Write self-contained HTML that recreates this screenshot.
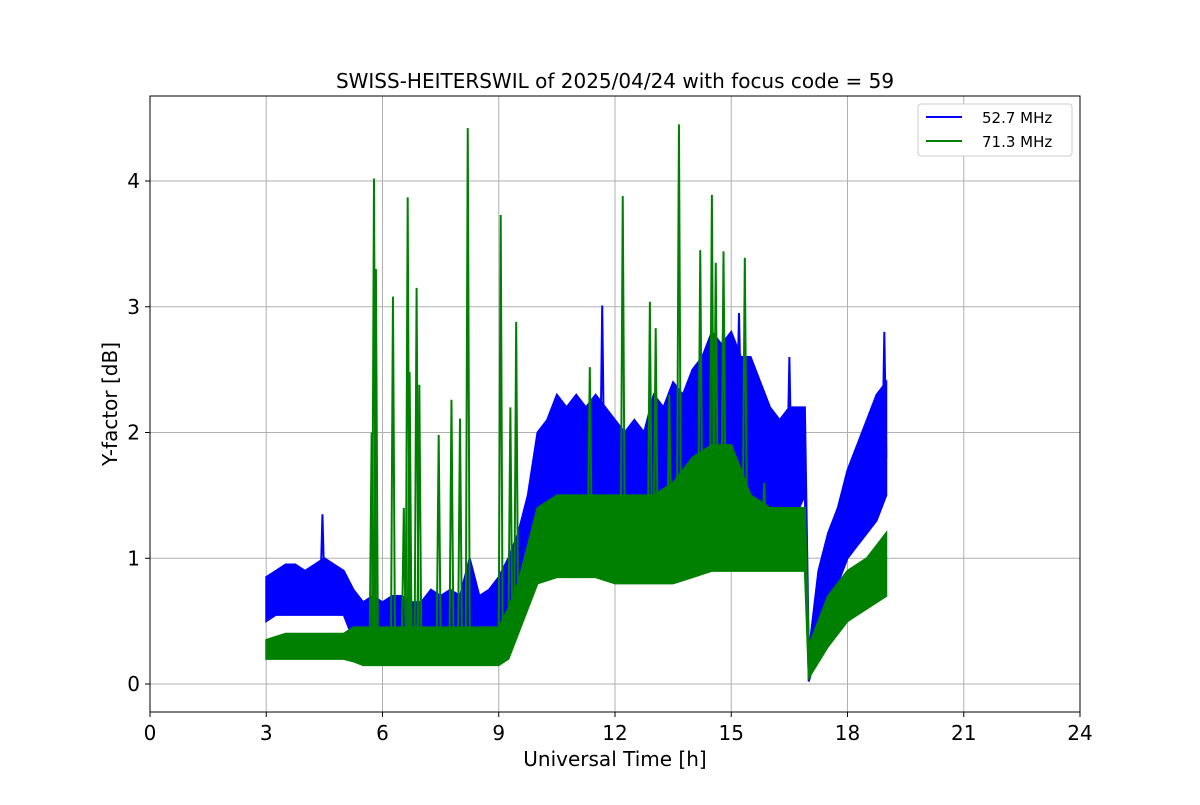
<!DOCTYPE html>
<html><head><meta charset="utf-8"><style>
body{margin:0;background:#fff;}
svg text{font-family:"DejaVu Sans","Liberation Sans",sans-serif;}
</style></head><body>
<svg id="chart" width="1200" height="800" xmlns="http://www.w3.org/2000/svg">
<rect width="1200" height="800" fill="#fff"/>
<g id="grid"></g>
<g id="series"></g>
<rect x="150" y="96" width="930" height="616" fill="none" stroke="#000" stroke-width="1"/>
<g id="axes"></g>
<text x="615" y="88" text-anchor="middle" font-size="20">SWISS-HEITERSWIL of 2025/04/24 with focus code = 59</text>
<text x="615" y="766" text-anchor="middle" font-size="20">Universal Time [h]</text>
<text x="117" y="404" text-anchor="middle" font-size="20" transform="rotate(-90 117 404)">Y-factor [dB]</text>
<g>
<rect x="918" y="104" width="154" height="52" rx="3" fill="#fff" stroke="#ccc"/>
<line x1="926" y1="117" x2="962" y2="117" stroke="blue" stroke-width="2"/>
<text x="982" y="123" font-size="15">52.7 MHz</text>
<line x1="926" y1="141" x2="962" y2="141" stroke="green" stroke-width="2"/>
<text x="982" y="147" font-size="15">71.3 MHz</text>
</g>
</svg>
<script>
const xTicks=[0,3,6,9,12,15,18,21,24];
const yTicks=[0,1,2,3,4];
const blueT=[3,3.25,3.5,3.75,4,4.25,4.5,4.75,5,5.25,5.5,5.75,6,6.25,6.5,6.75,7,7.25,7.5,7.75,8,8.25,8.5,8.75,9,9.25,9.5,9.75,10,10.25,10.5,10.75,11,11.25,11.5,11.75,12,12.25,12.5,12.75,13,13.25,13.5,13.75,14,14.25,14.5,14.75,15,15.25,15.5,15.75,16,16.25,16.5,16.75,16.9,17,17.25,17.5,17.75,18,18.25,18.5,18.75,19];
const blueLow=[0.5,0.55,0.55,0.55,0.55,0.55,0.55,0.55,0.55,0.35,0.3,0.25,0.25,0.25,0.25,0.25,0.25,0.25,0.25,0.25,0.25,0.25,0.25,0.3,0.3,0.4,0.6,0.8,1.0,1.1,1.1,1.1,1.1,1.1,1.1,1.0,1.0,1.0,1.0,1.0,1.0,1.0,1.0,1.1,1.2,1.4,1.5,1.5,1.5,1.5,1.4,1.3,1.4,1.4,1.4,1.4,1.5,0.02,0.3,0.6,0.8,1.0,1.1,1.2,1.3,1.5];
const blueHigh=[0.85,0.9,0.95,0.95,0.9,0.95,1.0,0.95,0.9,0.75,0.65,0.7,0.65,0.7,0.7,0.65,0.65,0.75,0.7,0.75,0.7,1.0,0.7,0.75,0.85,1.0,1.2,1.5,2.0,2.1,2.3,2.2,2.3,2.2,2.3,2.2,2.1,2.0,2.1,2.0,2.3,2.2,2.4,2.3,2.5,2.6,2.8,2.7,2.8,2.6,2.6,2.4,2.2,2.1,2.2,2.2,2.2,0.25,0.9,1.2,1.4,1.7,1.9,2.1,2.3,2.4];
const blueSpikes=[[4.45,1.35],[11.67,3.01],[14.8,3.07],[15.2,2.95],[16.5,2.6],[18.95,2.8]];
const greenT=[3,3.5,4,4.5,5,5.25,5.5,6,6.5,7,7.5,8,8.5,9,9.25,9.5,9.75,10,10.5,11,11.5,12,12.5,13,13.5,14,14.5,15,15.5,16,16.5,16.9,17,17.5,18,18.5,19];
const greenLow=[0.2,0.2,0.2,0.2,0.2,0.18,0.15,0.15,0.15,0.15,0.15,0.15,0.15,0.15,0.2,0.4,0.6,0.8,0.85,0.85,0.85,0.8,0.8,0.8,0.8,0.85,0.9,0.9,0.9,0.9,0.9,0.9,0.05,0.3,0.5,0.6,0.7];
const greenHigh=[0.35,0.4,0.4,0.4,0.4,0.45,0.45,0.45,0.45,0.45,0.45,0.45,0.45,0.45,0.6,0.8,1.1,1.4,1.5,1.5,1.5,1.5,1.5,1.5,1.6,1.8,1.9,1.9,1.5,1.4,1.4,1.4,0.3,0.7,0.9,1.0,1.2];
const greenSpikes=[[5.72,2.0],[5.78,4.02],[5.83,3.3],[6.27,3.08],[6.55,1.4],[6.65,3.87],[6.7,2.48],[6.88,3.15],[6.95,2.38],[7.45,1.98],[7.78,2.26],[8.0,2.11],[8.2,4.42],[9.05,3.73],[9.3,2.2],[9.45,2.88],[11.35,2.52],[12.2,3.88],[12.9,3.04],[13.05,2.83],[13.4,2.3],[13.65,4.45],[14.2,3.45],[14.5,3.89],[14.6,3.35],[14.8,3.44],[15.35,3.39],[15.85,1.6]];

const NS='http://www.w3.org/2000/svg';
const X=t=>150+t*930/24;
const Y=v=>684-v*125.75;
function mk(tag,attrs,parent){const e=document.createElementNS(NS,tag);for(const k in attrs)e.setAttribute(k,attrs[k]);parent.appendChild(e);return e;}
const grid=document.getElementById('grid'),axes=document.getElementById('axes'),series=document.getElementById('series');
xTicks.forEach(t=>{
  const g=mk('line',{x1:X(t),x2:X(t),y1:96,y2:712,stroke:'#b0b0b0','stroke-width':1},grid);
  
  
  mk('line',{x1:X(t),x2:X(t),y1:712,y2:717,stroke:'#000'},axes);
  const l=mk('text',{x:X(t),y:740,'text-anchor':'middle','font-size':20},axes);
  l.textContent=t;
  
  
});
yTicks.forEach(v=>{
  const g=mk('line',{x1:150,x2:1080,y1:Y(v),y2:Y(v),stroke:'#b0b0b0','stroke-width':1},grid);
  
  
  mk('line',{x1:145,x2:150,y1:Y(v),y2:Y(v),stroke:'#000'},axes);
  const l=mk('text',{x:140,y:Y(v)+7,'text-anchor':'end','font-size':20},axes);
  l.textContent=v;
  
  
});
function band(T,lo,hi,spikes,color,name){
  let pts=T.map((t,i)=>X(t)+','+Y(hi[i]));
  for(let i=T.length-1;i>=0;i--)pts.push(X(T[i])+','+Y(lo[i]));
  const p=mk('polygon',{points:pts.join(' '),fill:color,stroke:color,'stroke-width':2},series);
  
  
  spikes.forEach(s=>{
    let i=0;while(i<T.length-1&&T[i+1]<s[0])i++;
    const base=(lo[i]+hi[i])/2;
    const sp=mk('polyline',{points:`${X(s[0])-2},${Y(base)} ${X(s[0])},${Y(s[1])} ${X(s[0])+2},${Y(base)}`,fill:'none',stroke:color,'stroke-width':2},series);
    
    
  });
}
band(blueT,blueLow,blueHigh,blueSpikes,'blue','series-52-7');
band(greenT,greenLow,greenHigh,greenSpikes,'green','series-71-3');
</script>
</body></html>
